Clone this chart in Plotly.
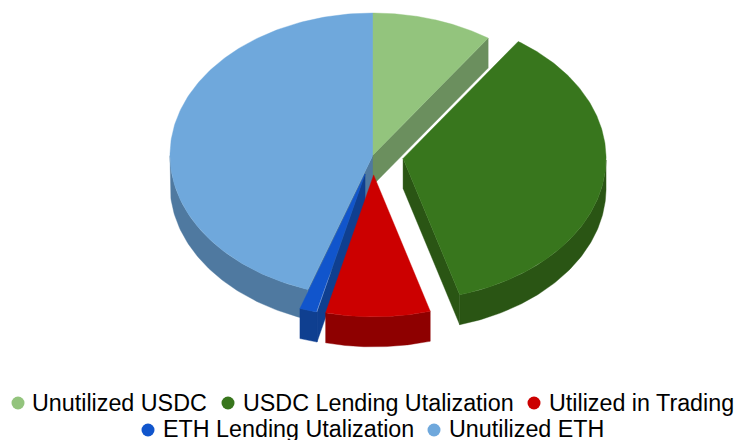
import numpy as np
import plotly.graph_objects as go

# Share of capital per bucket, in percent, clockwise from twelve o'clock
categories = ["Unutilized USDC", "USDC Lending Utalization", "Utilized in Trading",
              "ETH Lending Utalization", "Unutilized ETH"]
shares = [9.6, 35.9, 8.3, 1.4, 44.8]
explode = [0.0, 0.15, 0.14, 0.14, 0.0]
top_colors = ["#93c47d", "#38761d", "#cc0000", "#1155cc", "#6fa8dc"]
side_colors = ["#6b8f5e", "#2a5514", "#8e0000", "#0f3f90", "#4f79a0"]

# Projection of the tilted disc onto the page, in page pixels
CX, CY = 373.0, 155.0
RX, RY = 203.0, 142.0
DEPTH = 30.0

# Legend layout: two centred rows
legend_rows = [(403, [18, 228, 534]), (429, [148, 434])]
legend_text_x = [32, 243, 549, 163, 449]
LEGEND_FONT = 23.3

ends = np.cumsum(shares) / np.sum(shares) * 2 * np.pi
starts = np.concatenate([[0.0], ends[:-1]])


def project(theta, radius=1.0, ox=0.0, oy=0.0):
    return ox + CX + RX * radius * np.sin(theta), oy + CY - RY * radius * np.cos(theta)


def polygon(fig, xs, ys, color, name):
    fig.add_trace(go.Scatter(
        x=np.append(xs, xs[0]), y=np.append(ys, ys[0]),
        mode="lines", fill="toself", fillcolor=color,
        line=dict(color=color, width=0.4),
        name=name, showlegend=False, hoverinfo="name",
    ))


def draw_slice(fig, i):
    a0, a1 = starts[i], ends[i]
    mid = (a0 + a1) / 2
    ox = RX * explode[i] * np.sin(mid)
    oy = -RY * explode[i] * np.cos(mid)
    apex_x, apex_y = CX + ox, CY + oy
    name = categories[i]
    arc = np.linspace(a0, a1, 160)
    arc_x, arc_y = project(arc, ox=ox, oy=oy)

    # Cut faces that turn towards the viewer
    for edge, normal in ((a0, a0 - np.pi / 2), (a1, a1 + np.pi / 2)):
        if np.cos(normal) < 0:
            ex, ey = project(edge, ox=ox, oy=oy)
            polygon(fig,
                    np.array([apex_x, ex, ex, apex_x]),
                    np.array([apex_y, ey, ey + DEPTH, apex_y + DEPTH]),
                    side_colors[i], name)

    # Front part of the rim
    front = (np.cos(arc) < 0)
    if front.any():
        fx, fy = arc_x[front], arc_y[front]
        polygon(fig,
                np.concatenate([fx, fx[::-1]]),
                np.concatenate([fy, fy[::-1] + DEPTH]),
                side_colors[i], name)

    # Top face
    polygon(fig,
            np.concatenate([[apex_x], arc_x]),
            np.concatenate([[apex_y], arc_y]),
            top_colors[i], name)


fig = go.Figure()

# Painter's order: back slices first, exploded front slices last
for i in (4, 0, 1, 3, 2):
    draw_slice(fig, i)

annotations = []
k = 0
for row_y, marker_xs in legend_rows:
    for mx in marker_xs:
        fig.add_trace(go.Scatter(
            x=[mx], y=[row_y + (1 if row_y > 420 else 0)], mode="markers",
            marker=dict(size=13, color=top_colors[k]),
            name=categories[k], showlegend=False, hoverinfo="name",
        ))
        annotations.append(dict(
            x=legend_text_x[k], y=row_y, xref="x", yref="y",
            text=categories[k], showarrow=False,
            xanchor="left", yanchor="middle", xshift=-2,
            font=dict(family="Liberation Sans", size=LEGEND_FONT, color="#000000"),
        ))
        k += 1

fig.update_layout(
    width=735, height=440,
    margin=dict(l=0, r=0, t=0, b=0),
    paper_bgcolor="#ffffff", plot_bgcolor="#ffffff",
    showlegend=False,
    annotations=annotations,
    xaxis=dict(range=[0, 735], visible=False, fixedrange=True),
    yaxis=dict(range=[440, 0], visible=False, fixedrange=True),
)

fig.write_html("out.html", config={"displayModeBar": False})
